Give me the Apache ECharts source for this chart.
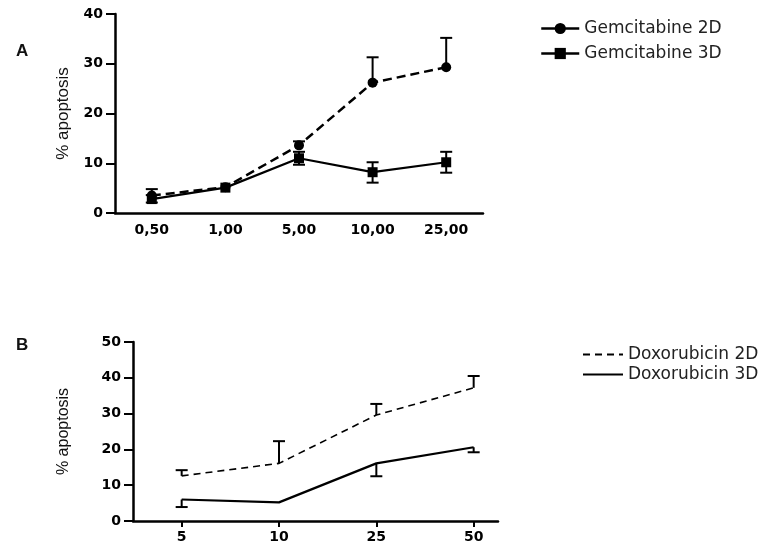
<!DOCTYPE html>
<html><head><meta charset="utf-8">
<script src="https://cdn.jsdelivr.net/npm/echarts@6/dist/echarts.min.js"></script>
<style>html,body{margin:0;padding:0;background:#fff}#c{width:773px;height:544px}</style>
</head><body><div id="c"></div>
<script>
// Panel A data
const gemCats = ['0,50', '1,00', '5,00', '10,00', '25,00'];
const gem2D = [3.5, 5.2, 13.6, 26.2, 29.3];
const gem2DErrUp = [1.3, 0, 0.8, 5.1, 5.9];
const gem2DErrDown = [0, 0, 0, 0, 0];
const gem3D = [2.8, 5.1, 11.0, 8.2, 10.2];
const gem3DErrUp = [0.8, 0, 1.3, 2.0, 2.1];
const gem3DErrDown = [0.7, 0, 1.3, 2.1, 2.1];

// Panel B data
const doxCats = ['5', '10', '25', '50'];
const dox2D = [12.6, 16.1, 29.6, 37.2];
const dox2DErrUp = [1.6, 6.2, 3.1, 3.3];
const dox2DErrDown = [0, 0, 0, 0];
const dox3D = [6.0, 5.2, 16.1, 20.6];
const dox3DErrUp = [0, 0, 0, 0];
const dox3DErrDown = [2.1, 0, 3.6, 1.4];

const FONT = '"Liberation Sans", Arial, sans-serif';
const TICKFONT = '"DejaVu Sans", sans-serif';
const chart = echarts.init(document.getElementById('c'), null, {renderer: 'canvas'});

function errData(mean, up, down) {
  return mean.map((m, i) => [i, m, m - down[i], m + up[i], down[i] > 0 ? 1 : 0, up[i] > 0 ? 1 : 0]);
}
function errRender(lineW, capW) {
  return function (params, api) {
    const x = api.value(0);
    const pm = api.coord([x, api.value(1)]);
    const pl = api.coord([x, api.value(2)]);
    const ph = api.coord([x, api.value(3)]);
    const ch = [];
    const st = {stroke: '#000', lineWidth: lineW};
    if (api.value(5)) {
      ch.push({type: 'line', shape: {x1: pm[0], y1: pm[1], x2: ph[0], y2: ph[1]}, style: st});
      ch.push({type: 'line', shape: {x1: ph[0] - capW / 2, y1: ph[1], x2: ph[0] + capW / 2, y2: ph[1]}, style: st});
    }
    if (api.value(4)) {
      ch.push({type: 'line', shape: {x1: pm[0], y1: pm[1], x2: pl[0], y2: pl[1]}, style: st});
      ch.push({type: 'line', shape: {x1: pl[0] - capW / 2, y1: pl[1], x2: pl[0] + capW / 2, y2: pl[1]}, style: st});
    }
    return {type: 'group', children: ch};
  };
}

const tickLabel = {color: '#000', fontFamily: TICKFONT, fontWeight: 'bold', fontSize: 14};
const letterStyle = {fontFamily: '"Liberation Sans", sans-serif', fontWeight: 'bold', fontSize: 17, color: '#111'};

const option = {
  animation: false,
  backgroundColor: '#fff',
  title: [
    {text: 'A', left: 11, top: 38, textStyle: letterStyle},
    {text: 'B', left: 11, top: 332, textStyle: letterStyle}
  ],
  legend: [
    {
      left: 535, top: 15, orient: 'vertical', itemGap: 8, itemWidth: 38, itemHeight: 14,
      textStyle: {fontFamily: TICKFONT, fontSize: 17, color: '#222'},
      data: [
        {name: 'Gemcitabine 2D', lineStyle: {type: 'solid', width: 2.5}},
        {name: 'Gemcitabine 3D', lineStyle: {type: 'solid', width: 2.5}}
      ]
    },
    {
      left: 577, top: 341, orient: 'vertical', itemGap: 3, itemWidth: 40, itemHeight: 14,
      textStyle: {fontFamily: TICKFONT, fontSize: 17, color: '#222'},
      itemStyle: {opacity: 0},
      data: [{name: 'Doxorubicin 2D'}, {name: 'Doxorubicin 3D'}]
    }
  ],
  grid: [
    {left: 115, top: 14, width: 368, height: 199},
    {left: 133, top: 342, width: 365, height: 179}
  ],
  xAxis: [
    {
      gridIndex: 0, type: 'category', data: gemCats, boundaryGap: true,
      axisLine: {lineStyle: {color: '#000', width: 2.5}},
      axisTick: {alignWithLabel: true, length: 6, lineStyle: {width: 2, color: '#000'}},
      axisLabel: Object.assign({margin: 10}, tickLabel)
    },
    {
      gridIndex: 1, type: 'value', min: -0.5, max: 3.25,
      splitLine: {show: false},
      axisLine: {onZero: false, lineStyle: {color: '#000', width: 2.5}},
      axisTick: {length: 6, lineStyle: {width: 2, color: '#000'}, customValues: [0, 1, 2, 3]},
      axisLabel: Object.assign({margin: 9, customValues: [0, 1, 2, 3], formatter: v => doxCats[Math.round(v)]}, tickLabel)
    }
  ],
  yAxis: [
    {
      gridIndex: 0, type: 'value', min: 0, max: 40, interval: 10,
      splitLine: {show: false},
      axisLine: {show: true, onZero: false, lineStyle: {color: '#000', width: 2.5}},
      axisTick: {show: true, length: 9, lineStyle: {width: 2, color: '#000'}},
      axisLabel: Object.assign({margin: 12}, tickLabel),
      name: '% apoptosis', nameLocation: 'middle', nameGap: 43, nameRotate: 90,
      nameTextStyle: {fontFamily: FONT, fontSize: 17, color: '#111'}
    },
    {
      gridIndex: 1, type: 'value', min: 0, max: 50, interval: 10,
      splitLine: {show: false},
      axisLine: {show: true, onZero: false, lineStyle: {color: '#000', width: 2.5}},
      axisTick: {show: true, length: 9, lineStyle: {width: 2, color: '#000'}},
      axisLabel: Object.assign({margin: 12}, tickLabel),
      name: '% apoptosis', nameLocation: 'middle', nameGap: 61, nameRotate: 90,
      nameTextStyle: {fontFamily: FONT, fontSize: 16, color: '#111'}
    }
  ],
  series: [
    {
      name: 'Gemcitabine 2D', type: 'line', xAxisIndex: 0, yAxisIndex: 0, data: gem2D,
      symbol: 'circle', symbolSize: 10, itemStyle: {color: '#000'},
      lineStyle: {color: '#000', width: 2.5, type: [9, 5]}, z: 3
    },
    {
      name: 'Gemcitabine 3D', type: 'line', xAxisIndex: 0, yAxisIndex: 0, data: gem3D,
      symbol: 'rect', symbolSize: 10, itemStyle: {color: '#000'},
      lineStyle: {color: '#000', width: 2.2}, z: 3
    },
    {
      type: 'custom', xAxisIndex: 0, yAxisIndex: 0, renderItem: errRender(2, 12),
      data: errData(gem2D, gem2DErrUp, gem2DErrDown), z: 2
    },
    {
      type: 'custom', xAxisIndex: 0, yAxisIndex: 0, renderItem: errRender(2, 12),
      data: errData(gem3D, gem3DErrUp, gem3DErrDown), z: 2
    },
    {
      name: 'Doxorubicin 2D', type: 'line', xAxisIndex: 1, yAxisIndex: 1,
      data: dox2D.map((v, i) => [i, v]), symbol: 'none',
      lineStyle: {color: '#000', width: 1.6, type: [7, 5]}, itemStyle: {color: '#000'}
    },
    {
      name: 'Doxorubicin 3D', type: 'line', xAxisIndex: 1, yAxisIndex: 1,
      data: dox3D.map((v, i) => [i, v]), symbol: 'none',
      lineStyle: {color: '#000', width: 2.2}, itemStyle: {color: '#000'}
    },
    {
      type: 'custom', xAxisIndex: 1, yAxisIndex: 1, renderItem: errRender(2, 12),
      data: errData(dox2D, dox2DErrUp, dox2DErrDown)
    },
    {
      type: 'custom', xAxisIndex: 1, yAxisIndex: 1, renderItem: errRender(2, 12),
      data: errData(dox3D, dox3DErrUp, dox3DErrDown)
    }
  ]
};
chart.setOption(option);
</script>
</body></html>
